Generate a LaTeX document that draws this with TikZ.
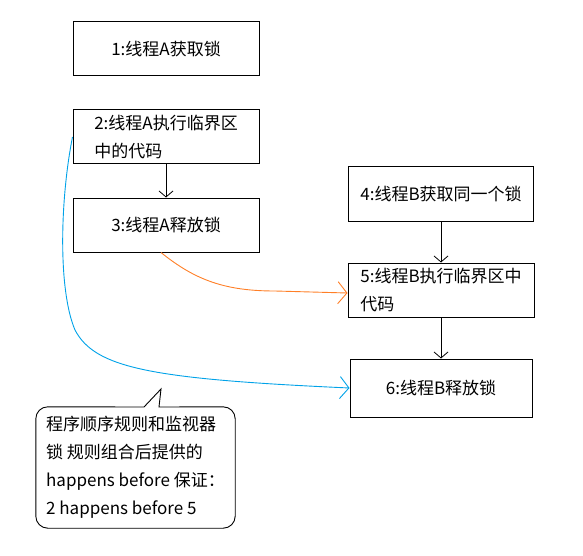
\documentclass[tikz,border=0pt]{standalone}
\usepackage{fontspec}
\newfontfamily\cjk{Noto Sans CJK SC}
\usetikzlibrary{positioning, arrows.meta}
\definecolor{lockorange}{RGB}{255,127,39}
\definecolor{lockblue}{RGB}{0,162,232}
\tikzset{
    >={Straight Barb[length=6pt,width=14pt]}, % open arrow heads
    node distance=33pt, % gap between two boxes of thread A
    every node/.style={font=\cjk\fontsize{17}{28}\selectfont},
    stepbox/.style={draw, line width=1pt, minimum width=186pt, minimum height=54pt, align=left, inner ysep=2pt}, % one step of a thread
    note/.style={minimum width=199pt, minimum height=121pt, align=left}, % text of the callout
    wide arrow/.style={line width=0.9pt, -{Straight Barb[length=9pt,width=22pt]}},
}
\begin{document}
\begin{tikzpicture}[x=1pt, y=-1pt]
    \useasboundingbox (0,0) rectangle (583,556);

    \node[stepbox] (a1) at (166,49) {1:线程A获取锁};
    \node[stepbox, below=of a1] (a2) {2:线程A执行临界区\\中的代码};
    \node[stepbox, below=of a2] (a3) {3:线程A释放锁};
    \node[stepbox, minimum width=185pt] (b1) at (441,194) {4:线程B获取同一个锁};
    \node[stepbox, below=41pt of b1] (b2) {5:线程B执行临界区中\\代码};
    \node[stepbox, below=41pt of b2, minimum width=182pt, minimum height=58pt] (b3) {6:线程B释放锁};
    \node[note] (n) at (135.5,467.5) {程序顺序规则和监视器\\锁 规则组合后提供的\\happens before 保证：\\2 happens before 5};

    \draw[->, line width=0.8pt] (a2) -- (a3);
    \draw[->, line width=0.8pt] (b1) -- (b2);
    \draw[->, line width=0.8pt] (b2) -- (b3);
    \draw[lockorange, wide arrow] ([xshift=-5pt]a3.south) .. controls (195,280) and (225,291) .. (275,291) -- ([yshift=-3pt]b2.west);
    \draw[lockblue, wide arrow] (a2.west) .. controls (60,200) and (58,290) .. (75,330) .. controls (95,368) and (150,379) .. (b3.west);
    % callout round the note
    \draw[line width=0.9pt] (161,389) -- (144,407) [rounded corners=12pt] -- (n.north west) -- (n.south west) -- (n.south east) -- (n.north east) [sharp corners] -- (159,407) -- cycle;
\end{tikzpicture}
\end{document}
